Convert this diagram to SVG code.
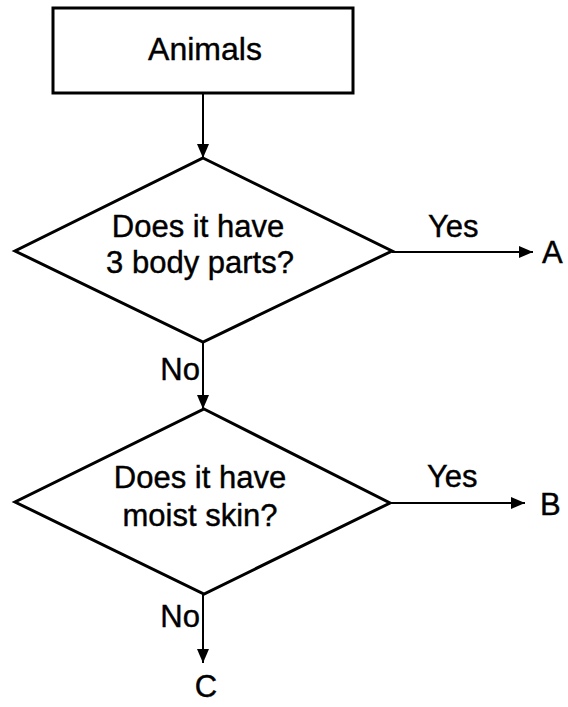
<svg xmlns="http://www.w3.org/2000/svg" width="568" height="707" viewBox="0 0 568 707">
<style>
.shape{fill:#fff;stroke:#000;stroke-width:3;stroke-linejoin:miter}
.conn{fill:none;stroke:#000;stroke-width:2}
.t{font-family:"Liberation Sans",Arial,sans-serif;font-size:31px;fill:#000;stroke:#000;stroke-width:0.4}
.c{text-anchor:middle}
</style>
<defs>
<marker id="arr" markerUnits="userSpaceOnUse" markerWidth="14" markerHeight="12" refX="14" refY="6" orient="auto">
<path d="M0,0 L14,6 L0,12 z" fill="#000"/>
</marker>
</defs>
<rect width="568" height="707" fill="#fff"/>
<g id="connectors">
<line class="conn" x1="203" y1="93" x2="203" y2="158" marker-end="url(#arr)"/>
<line class="conn" x1="392" y1="252" x2="533" y2="252" marker-end="url(#arr)"/>
<line class="conn" x1="203" y1="342" x2="203" y2="409" marker-end="url(#arr)"/>
<line class="conn" x1="390" y1="503" x2="525" y2="503" marker-end="url(#arr)"/>
<line class="conn" x1="203" y1="594" x2="203" y2="663" marker-end="url(#arr)"/>
<text class="t" x="428" y="237">Yes</text>
<text class="t" x="200" y="380" text-anchor="end">No</text>
<text class="t" x="427" y="487">Yes</text>
<text class="t" x="200" y="627" text-anchor="end">No</text>
</g>
<g id="animals">
<rect class="shape" x="53" y="8" width="300" height="85"/>
<text class="t c" x="205" y="60" style="font-size:32px">Animals</text>
</g>
<g id="q1">
<polygon class="shape" points="203,158 392,251 203,342 15,251"/>
<text class="t c" x="198" y="237">Does it have</text>
<text class="t c" x="200" y="273">3 body parts?</text>
</g>
<g id="q2">
<polygon class="shape" points="204,409 390,503 204,594 15,502"/>
<text class="t c" x="200" y="488">Does it have</text>
<text class="t c" x="200" y="526">moist skin?</text>
</g>
<g id="A"><text class="t" x="542" y="263">A</text></g>
<g id="B"><text class="t" x="540" y="515">B</text></g>
<g id="C"><text class="t c" x="206" y="697">C</text></g>
</svg>
